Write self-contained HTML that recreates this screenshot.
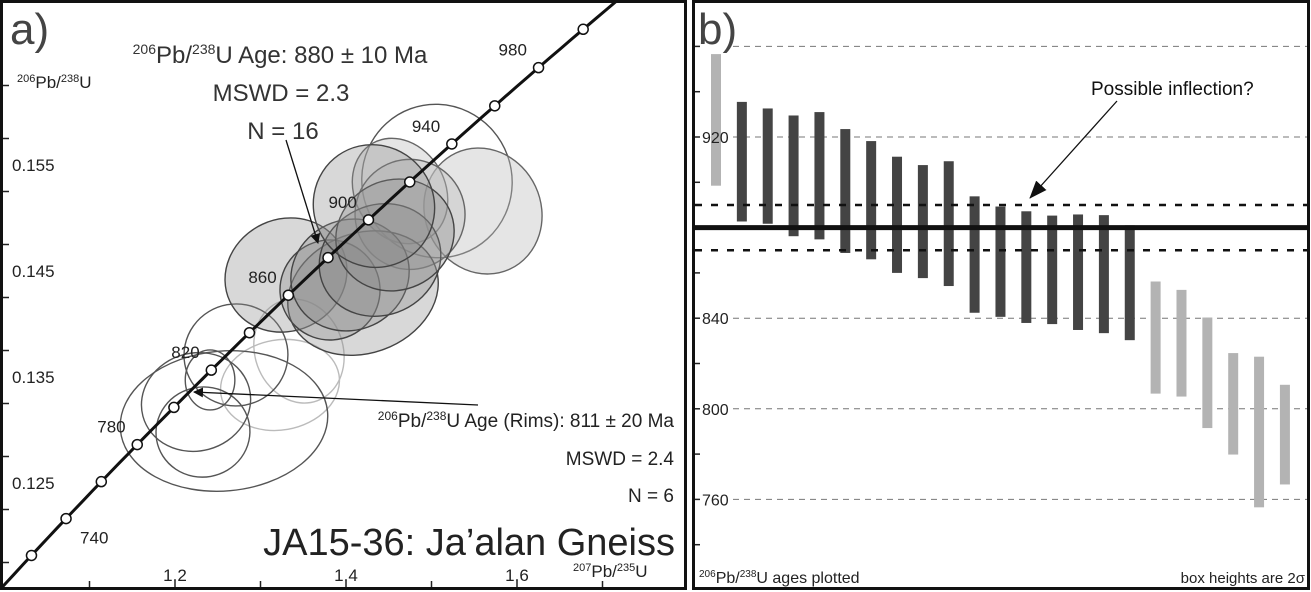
<!DOCTYPE html>
<html><head><meta charset="utf-8"><style>
html,body{margin:0;padding:0;background:#fff}
svg{display:block;font-family:"Liberation Sans",Arial,sans-serif}
</style></head><body>
<svg id="fig" width="1311" height="592" viewBox="0 0 1311 592" xmlns="http://www.w3.org/2000/svg">
<defs>
<clipPath id="clipA"><rect x="3" y="3" width="682" height="584"/></clipPath>
<marker id="arr" markerWidth="10" markerHeight="10" refX="9" refY="5" orient="auto" markerUnits="userSpaceOnUse"><path d="M0,0 L10,5 L0,10 z" fill="#111"/></marker>
<marker id="arrB" markerWidth="18" markerHeight="14" refX="17" refY="7" orient="auto" markerUnits="userSpaceOnUse"><path d="M0,0 L18,7 L0,14 z" fill="#111"/></marker>
</defs>
<g id="panelA"></g>
<g id="panelB"></g>
</svg>
<script>
// ---------- Panel a data ----------
const xTicksA = [1.2, 1.4, 1.6];
const yTicksA = [0.125, 0.135, 0.145, 0.155];
const concordiaAges = [720,740,760,780,800,820,840,860,880,900,920,940,960,980,1000];
const concordiaLabelAges = [740,780,820,860,900,940,980];
// ellipses: centre (207/235, 206/238), semi-axes in data units, rotation deg
const ellX   = [1.3228,1.345,1.5064,1.2573,1.2246,1.2713,1.2327,1.241, 1.3298,1.5602,1.4632,1.4749,1.4199,1.3813,1.4047,1.4398,1.4573,1.4327];
const ellY   = [0.13425,0.13745,0.15349,0.13085,0.13264,0.13708,0.12981,0.13472, 0.14462,0.15066,0.15255,0.15034,0.14292,0.14321,0.14462,0.14604,0.1484,0.15113];
const ellRX  = [0.07,0.0515,0.0877,0.1216,0.0643,0.0608,0.055,0.029, 0.0725,0.0678,0.0527,0.0643,0.0901,0.0585,0.0702,0.0725,0.0702,0.0702];
const ellRY  = [0.00425,0.005,0.00726,0.0066,0.00462,0.00481,0.00425,0.00283, 0.00528,0.00604,0.00519,0.00519,0.00566,0.00472,0.00519,0.00519,0.00519,0.00585];
const ellRot = [-10,-20,-20,-5,-15,-10,-10,0, -25,-25,-30,-30,-20,-25,-25,-25,-25,-35];
const ellKind= ["lt","lt","open","open","open","open","open","open","fill","fillL","fillL","fillL","fill","fill","fill","fill","fill","fill"];

// ---------- Panel b data ----------
const barTop = [956.6,935.5,932.6,929.5,931,923.5,918.2,911.3,907.6,909.3,893.8,889.3,887.2,885.3,885.8,885.5,881,856.2,852.5,840.3,824.6,823,810.6];
const barBot = [898.5,882.7,881.7,876.2,874.8,868.8,866,860,857.7,854.2,842.4,840.6,837.9,837.4,834.8,833.4,830.3,806.7,805.4,791.5,779.8,756.5,766.6];
const barGroup = ["rej","m","m","m","m","m","m","m","m","m","m","m","m","m","m","m","m","rim","rim","rim","rim","rim","rim"];
const yTicksB = [760,800,840,920];
const gridB = [760,800,840,920,960];
const meanAge = [880];
const meanErr = [10];

const NS="http://www.w3.org/2000/svg";
function mk(parent,tag,attrs,txt){const e=document.createElementNS(NS,tag);for(const k in attrs)e.setAttribute(k,attrs[k]);if(txt!==undefined)e.textContent=txt;parent.appendChild(e);return e;}

// axis functions panel a
const xA = v => 175 + (v-1.2)*855;
const yA = v => 483 - (v-0.125)*10600;
const L238=1.55125e-10, L235=9.8485e-10;
const r206 = t => Math.exp(L238*t*1e6)-1;
const r207 = t => Math.exp(L235*t*1e6)-1;

const A=document.getElementById('panelA');
const gA=mk(A,'g',{'clip-path':'url(#clipA)'});
for(let i=0;i<ellX.length;i++){
  const k=ellKind[i];
  let fill='none',fo=0,stroke='#555',sw=1.4;
  if(k==='lt'){stroke='#bbb';}
  if(k==='fill'){fill='#888';fo=0.33;stroke='#444';}
  if(k==='fillL'){fill='#bdbdbd';fo=0.4;stroke='#666';}
  const cx=xA(ellX[i]),cy=yA(ellY[i]);
  const e=mk(gA,'ellipse',{cx:cx,cy:cy,rx:ellRX[i]*855,ry:ellRY[i]*10600,transform:`rotate(${ellRot[i]} ${cx} ${cy})`,fill:fill,'fill-opacity':fo,stroke:stroke,'stroke-width':sw});
  
  
}
let d='';
for(let t=690;t<=1040;t+=5){d+=(t===690?'M':'L')+xA(r207(t)).toFixed(1)+','+yA(r206(t)).toFixed(1);}
const cl=mk(gA,'path',{d:d,fill:'none',stroke:'#111','stroke-width':3});


concordiaAges.forEach(t=>{
  const c=mk(gA,'circle',{cx:xA(r207(t)),cy:yA(r206(t)),r:5,fill:'#fff',stroke:'#111','stroke-width':1.5});
  
  
});
concordiaLabelAges.forEach(t=>{
  const x=xA(r207(t)),y=yA(r206(t));
  const below = t===740;
  const tx=mk(gA,'text',{x: below? x+14 : x-40, y: below? y+25 : y-12,'font-size':17,fill:'#222'},String(t));
  
  
});
for(let v=0.1175;v<=0.1626;v+=0.005){
  const y=yA(v); if(y<4||y>586) continue;
  const tk=mk(A,'line',{x1:3,x2:9,y1:y,y2:y,stroke:'#222','stroke-width':1.5});
  
  
}
yTicksA.forEach(v=>{
  const t=mk(A,'text',{x:12,y:yA(v)+6,'font-size':17,fill:'#222'},v.toFixed(3));
  
  
});
for(let v=1.1;v<=1.75;v+=0.1){
  const x=xA(v); if(x<4||x>684) continue;
  const tk=mk(A,'line',{x1:x,x2:x,y1:587,y2:581,stroke:'#222','stroke-width':1.5});
  
  
}
xTicksA.forEach(v=>{
  const t=mk(A,'text',{x:xA(v),y:581,'font-size':17,fill:'#222','text-anchor':'middle'},v.toFixed(1));
  
  
});
</script>
<script>
(function(){
const A=document.getElementById('panelA');
A.insertAdjacentHTML('beforeend',`
<rect x="1.5" y="1.5" width="684" height="587" fill="none" stroke="#111" stroke-width="3"/>
<text x="10" y="44" font-size="44" fill="#444">a)</text>
<text x="17" y="88" font-size="17" fill="#222"><tspan font-size="11" dy="-6">206</tspan><tspan dy="6">Pb/</tspan><tspan font-size="11" dy="-6">238</tspan><tspan dy="6">U</tspan></text>
<text x="573" y="577" font-size="17" fill="#222"><tspan font-size="11" dy="-6">207</tspan><tspan dy="6">Pb/</tspan><tspan font-size="11" dy="-6">235</tspan><tspan dy="6">U</tspan></text>
<text x="280" y="63" font-size="24" fill="#333" text-anchor="middle"><tspan font-size="14" dy="-9">206</tspan><tspan dy="9">Pb/</tspan><tspan font-size="14" dy="-9">238</tspan><tspan dy="9">U Age: 880 ± 10 Ma</tspan></text>
<text x="281" y="101" font-size="24" fill="#333" text-anchor="middle">MSWD = 2.3</text>
<text x="283" y="139" font-size="24" fill="#333" text-anchor="middle">N = 16</text>
<line x1="286" y1="140" x2="318" y2="243" stroke="#111" stroke-width="1.3" marker-end="url(#arr)"/>
<line x1="478" y1="405" x2="194" y2="392" stroke="#111" stroke-width="1.3" marker-end="url(#arr)"/>
<text x="674" y="427" font-size="19" fill="#222" text-anchor="end"><tspan font-size="12" dy="-7">206</tspan><tspan dy="7">Pb/</tspan><tspan font-size="12" dy="-7">238</tspan><tspan dy="7">U Age (Rims): 811 ± 20 Ma</tspan></text>
<text x="674" y="465" font-size="19" fill="#222" text-anchor="end">MSWD = 2.4</text>
<text x="674" y="502" font-size="19" fill="#222" text-anchor="end">N = 6</text>
<text x="675" y="555" font-size="38" fill="#222" text-anchor="end">JA15-36: Ja’alan Gneiss</text>
`);
})();

// ---------- Panel b ----------
const B=document.getElementById('panelB');
const yB = v => 137 + (920-v)*2.265;
const xB = i => 716 + i*25.86;
B.insertAdjacentHTML('beforeend',`<rect x="693.5" y="1.5" width="615" height="587" fill="#fff" stroke="#111" stroke-width="3"/>`);
gridB.forEach(v=>{
  const g=mk(B,'line',{x1:733,x2:1307,y1:yB(v),y2:yB(v),stroke:'#777','stroke-width':1,'stroke-dasharray':'6,5'});
  
  
});
for(let v=740;v<=980;v+=20){
  const y=yB(v); if(y<4||y>586) continue;
  const tk=mk(B,'line',{x1:695,x2:700,y1:y,y2:y,stroke:'#222','stroke-width':1.5});
  
  
}
for(let i=0;i<barTop.length;i++){
  const col = barGroup[i]==='m' ? '#444' : '#b3b3b3';
  const r=mk(B,'rect',{x:xB(i)-5,y:yB(barTop[i]),width:10,height:yB(barBot[i])-yB(barTop[i]),fill:col});
  
  
}
yTicksB.forEach(v=>{
  const t=mk(B,'text',{x:702,y:yB(v)+6,'font-size':16,fill:'#222'},String(v));
  
  
});
const ml=mk(B,'line',{x1:695,x2:1307,y1:yB(meanAge[0]),y2:yB(meanAge[0]),stroke:'#111','stroke-width':5});


[meanAge[0]+meanErr[0], meanAge[0]-meanErr[0]].forEach(v=>{
  const l=mk(B,'line',{x1:695,x2:1307,y1:yB(v),y2:yB(v),stroke:'#111','stroke-width':2.5,'stroke-dasharray':'7,9'});
  
  
});
B.insertAdjacentHTML('beforeend',`
<text x="698" y="44" font-size="44" fill="#444">b)</text>
<text x="1091" y="95" font-size="19" fill="#111">Possible inflection?</text>
<line x1="1117" y1="101" x2="1030" y2="198" stroke="#111" stroke-width="1.3" marker-end="url(#arrB)"/>
<text x="699" y="583" font-size="16" fill="#222"><tspan font-size="10" dy="-6">206</tspan><tspan dy="6">Pb/</tspan><tspan font-size="10" dy="-6">238</tspan><tspan dy="6">U ages plotted</tspan></text>
<text x="1305" y="583" font-size="15" fill="#222" text-anchor="end">box heights are 2σ</text>
`);
</script>
</body></html>
